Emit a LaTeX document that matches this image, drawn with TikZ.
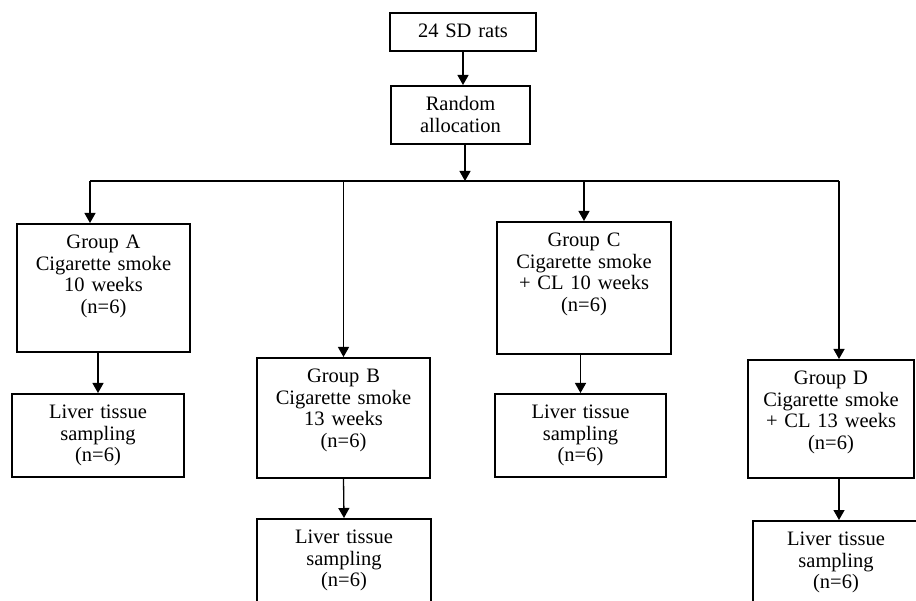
\documentclass[tikz,border=0pt]{standalone}
\usepackage{fontspec}
\setmainfont{Liberation Serif}
\usetikzlibrary{arrows.meta,positioning}

\begin{document}
\begin{tikzpicture}[x=1pt,y=-1pt,
  every node/.style={font=\fontsize{20.5}{21.5}\selectfont},
  flowbox/.style={draw, line width=1.6pt, anchor=north, align=center,
    inner xsep=0pt, inner ysep=0pt, text height=25pt},
  arrow/.style={line width=1.3pt, -{Triangle[length=10pt,width=11pt]}}]
  \clip (0,0) rectangle (916,601);
  % top of the chart
  \node[flowbox, text width=146pt, text depth=13pt] (rats) at (463,12) {24 SD rats};
  \node[flowbox, text width=139pt, text depth=33pt] (alloc) at (460.5,85) {Random\\allocation};
  % the four groups
  \node[flowbox, text width=173pt, text depth=103pt] (groupA) at (103.5,223)
    {Group A\\Cigarette smoke\\10 weeks\\(n=6)};
  \node[flowbox, text width=173pt, text depth=95pt] (groupB) at (343.5,357)
    {Group B\\Cigarette smoke\\13 weeks\\(n=6)};
  \node[flowbox, text width=174pt, text depth=107pt] (groupC) at (584,221)
    {Group C\\Cigarette smoke\\+ CL 10 weeks\\(n=6)};
  \node[flowbox, text width=166pt, text depth=93pt] (groupD) at (831,359)
    {Group D\\Cigarette smoke\\+ CL 13 weeks\\(n=6)};
  % sampling
  \node[flowbox, text width=172pt, text depth=58pt] (liverA) at (98,393)
    {Liver tissue\\sampling\\(n=6)};
  \node[flowbox, text width=174pt, text depth=58pt] (liverB) at (344,518)
    {Liver tissue\\sampling\\(n=6)};
  \node[flowbox, text width=171pt, text depth=58pt] (liverC) at (580.5,393)
    {Liver tissue\\sampling\\(n=6)};
  \node[flowbox, text width=166pt, text depth=58pt] (liverD) at (836,520)
    {Liver tissue\\sampling\\(n=6)};
  % connectors
  \coordinate (split) at (465,181);
  \coordinate (left) at (90,181);
  \coordinate (right) at (839,181);
  \draw[arrow] (rats.south) -- (rats.south |- alloc.north);
  \draw[arrow] (split |- alloc.south) -- (split);
  \draw[line width=1.3pt] (left) -- (right);
  \draw[arrow] (left) -- (left |- groupA.north);
  \draw[arrow] (groupB.north |- split) -- (groupB.north);
  \draw[arrow] (groupC.north |- split) -- (groupC.north);
  \draw[arrow] (right) -- (right |- groupD.north);
  \draw[arrow] (liverA.north |- groupA.south) -- (liverA.north);
  \draw[arrow] (groupB.south) -- (liverB.north);
  \draw[arrow] (liverC.north |- groupC.south) -- (liverC.north);
  \draw[arrow] (groupD.south -| right) -- (liverD.north -| right);
\end{tikzpicture}
\end{document}
